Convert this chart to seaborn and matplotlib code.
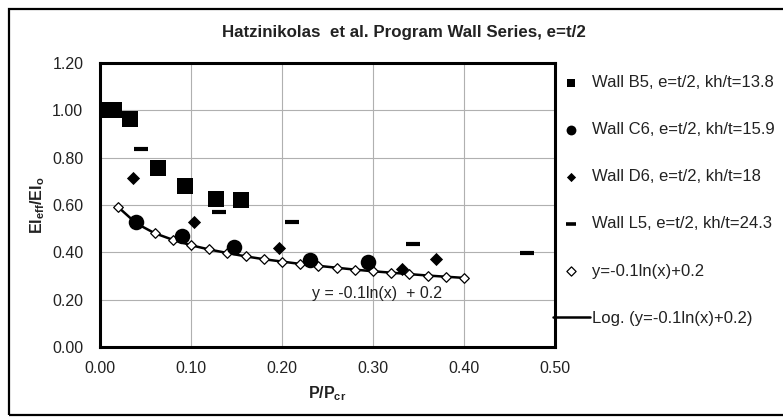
import matplotlib
matplotlib.use("Agg")
import matplotlib.pyplot as plt
import seaborn as sns
from matplotlib.patches import Rectangle

# ---- data ----
b5_x = [0.000, 0.015, 0.033, 0.064, 0.093, 0.128, 0.155]
b5_y = [1.00, 1.00, 0.965, 0.755, 0.68, 0.625, 0.62]

c6_x = [0.040, 0.090, 0.147, 0.231, 0.294]
c6_y = [0.527, 0.467, 0.423, 0.366, 0.358]

d6_x = [0.036, 0.103, 0.197, 0.332, 0.369]
d6_y = [0.716, 0.527, 0.417, 0.330, 0.371]

l5_x = [0.045, 0.131, 0.211, 0.344, 0.469]
l5_y = [0.835, 0.570, 0.527, 0.434, 0.396]

fit_x = [0.02, 0.04, 0.06, 0.08, 0.10, 0.12, 0.14, 0.16, 0.18, 0.20,
         0.22, 0.24, 0.26, 0.28, 0.30, 0.32, 0.34, 0.36, 0.38, 0.40]
fit_y = [0.591, 0.522, 0.481, 0.453, 0.430, 0.412, 0.397, 0.383, 0.371, 0.361,
         0.351, 0.343, 0.335, 0.327, 0.320, 0.314, 0.308, 0.302, 0.297, 0.292]

x_ticks = [0.00, 0.10, 0.20, 0.30, 0.40, 0.50]
y_ticks = [0.00, 0.20, 0.40, 0.60, 0.80, 1.00, 1.20]

lab_b5 = "Wall B5, e=t/2, kh/t=13.8"
lab_c6 = "Wall C6, e=t/2, kh/t=15.9"
lab_d6 = "Wall D6, e=t/2, kh/t=18"
lab_l5 = "Wall L5, e=t/2, kh/t=24.3"
lab_fit = "y=-0.1ln(x)+0.2"
lab_log = "Log. (y=-0.1ln(x)+0.2)"

sns.set_theme(style="white")
plt.rcParams['font.family'] = ['Liberation Sans', 'DejaVu Sans']

FS = 11.5
TXT = '#222222'

fig = plt.figure(figsize=(7.83, 4.17), dpi=100)
ax = fig.add_axes([100/783, 1-347/417, 455/783, 284/417])

# outer border
fig.patches.append(Rectangle((9/783, 2/417), 0.999, 406/417, transform=fig.transFigure,
                             fill=False, edgecolor='black', linewidth=1.6, clip_on=False))

sns.lineplot(x=fit_x, y=fit_y, ax=ax, color='black', linewidth=1.8, sort=False,
             label=lab_log, zorder=2)
sns.scatterplot(x=b5_x, y=b5_y, ax=ax, marker='s', s=135, color='black',
                edgecolor='black', linewidth=0, label=lab_b5, zorder=4)
sns.scatterplot(x=c6_x, y=c6_y, ax=ax, marker='o', s=125, color='black',
                edgecolor='black', linewidth=0, label=lab_c6, zorder=4)
sns.scatterplot(x=d6_x, y=d6_y, ax=ax, marker='D', s=45, color='black',
                edgecolor='black', linewidth=0, label=lab_d6, zorder=4)
sns.scatterplot(x=l5_x, y=l5_y, ax=ax, marker='_', s=90, color='black',
                linewidth=3, label=lab_l5, zorder=4)
sns.scatterplot(x=fit_x, y=fit_y, ax=ax, marker='D', s=24, color='white',
                edgecolor='black', linewidth=0.9, label=lab_fit, zorder=3)

ax.set_xlim(0, 0.5)
ax.set_ylim(0, 1.2)
ax.set_xticks(x_ticks)
ax.set_yticks(y_ticks)
ax.set_xticklabels([f"{v:.2f}" for v in x_ticks])
ax.set_yticklabels([f"{v:.2f}" for v in y_ticks])
ax.tick_params(axis='both', labelsize=FS, colors=TXT, length=0)
ax.tick_params(axis='y', pad=12)
ax.tick_params(axis='x', pad=10)
ax.grid(True, color='#b0b0b0', linewidth=0.8)
ax.set_axisbelow(True)
for sp in ax.spines.values():
    sp.set_visible(True)
    sp.set_color('black')
    sp.set_linewidth(2.2)

ax.set_xlabel(r"P/P$_{\mathregular{cr}}$", fontsize=FS, fontweight='bold', labelpad=6,
              color=TXT)
ax.set_ylabel(r"EI$_{\mathregular{eff}}$/EI$_{\mathregular{o}}$", fontsize=FS,
              fontweight='bold', labelpad=4, color=TXT)

ax.text(0.304, 0.228, "y = -0.1ln(x)  + 0.2", fontsize=FS, ha='center', va='center',
        color=TXT)

fig.text(404/783, 1-33/417, "Hatzinikolas  et al. Program Wall Series, e=t/2",
         fontsize=12.2, fontweight='bold', ha='center', va='center', color=TXT)

handles, labels = ax.get_legend_handles_labels()
order = [lab_b5, lab_c6, lab_d6, lab_l5, lab_fit, lab_log]
hmap = dict(zip(labels, handles))
leg = ax.legend([hmap[l] for l in order], order, loc='upper left',
                bbox_to_anchor=(553/783, 1-75/417), bbox_transform=fig.transFigure,
                frameon=False, fontsize=12, labelspacing=1.93, handlelength=2.2,
                handletextpad=0.15, borderaxespad=0, borderpad=0)
for t in leg.get_texts():
    t.set_color(TXT)
leg_sizes = [40, 50, 22, 50, 22]
for h, sz in zip(leg.legend_handles[:5], leg_sizes):
    h.set_sizes([sz])
leg.legend_handles[3].set_linewidth(2.6)

fig.savefig("out.png", dpi=100)
